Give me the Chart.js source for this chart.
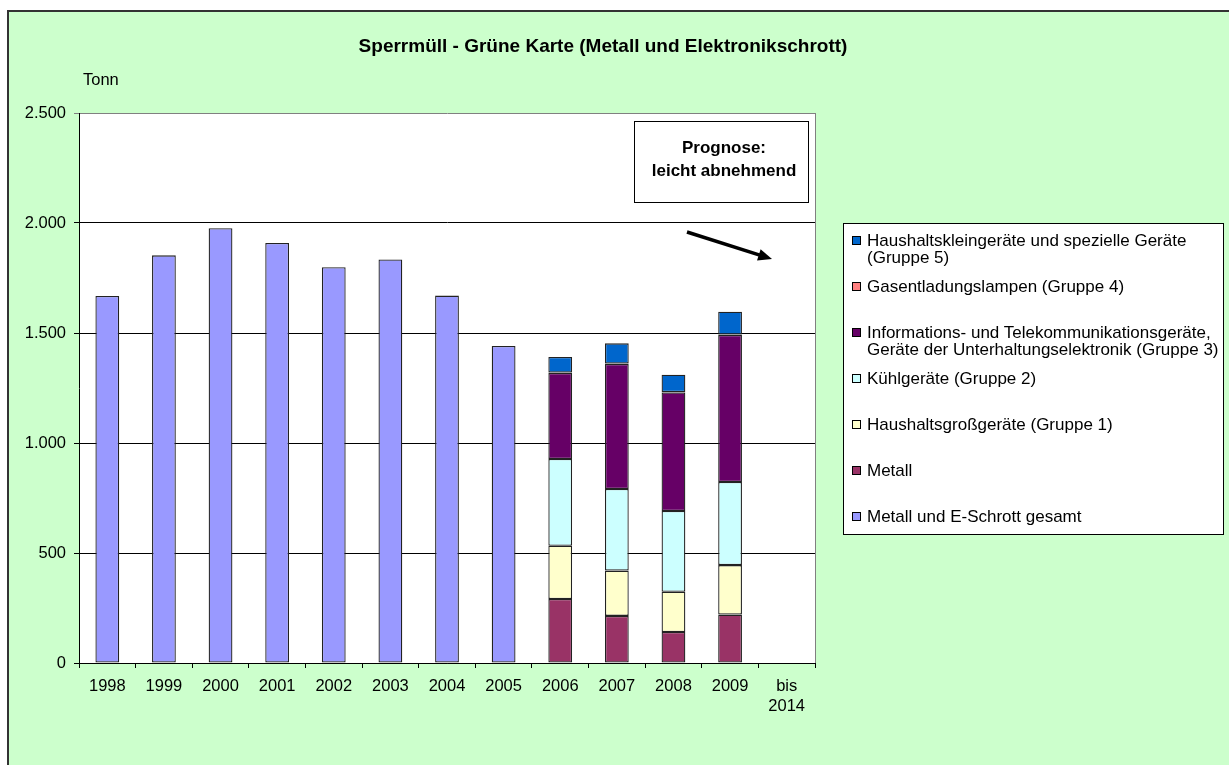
<!DOCTYPE html>
<html>
<head>
<meta charset="utf-8">
<title>Sperrmüll - Grüne Karte</title>
<script src="https://cdn.jsdelivr.net/npm/chart.js@4.4.1/dist/chart.umd.min.js"></script>
<style>
  body { margin: 0; background: #fff; }
  #wrap { position: relative; width: 1229px; height: 765px; overflow: hidden; }
  #legend {
    position: absolute; left: 843px; top: 223px; width: 381px; height: 312px;
    box-sizing: border-box; background: #fff; border: 1px solid #000;
    font: 17px Arial, 'Liberation Sans', sans-serif; color: #000; padding-top: 8px;
  }
  .item { position: relative; height: 46px; padding-left: 23px; line-height: 17px; white-space: pre; }
  .sw { position: absolute; left: 8px; top: 4px; width: 7px; height: 7px; border: 1px solid #000; }
</style>
</head>
<body>
<div id="wrap">
  <canvas id="chart" width="1229" height="765"></canvas>
  <div id="legend"></div>
</div>
<script>
'use strict';

// Categories (years)
var years = ['1998', '1999', '2000', '2001', '2002', '2003', '2004', '2005',
  '2006', '2007', '2008', '2009', ['bis', '2014']];

// Tonnes
var gesamt = [1668, 1853, 1976, 1909, 1799, 1834, 1670, 1441, null, null, null, null, null];
var metall = [null, null, null, null, null, null, null, null, 291, 214, 141, 220, null];
var gruppe1 = [null, null, null, null, null, null, null, null, 242, 206, 183, 225, null];
var gruppe2 = [null, null, null, null, null, null, null, null, 394, 371, 367, 378, null];
var gruppe3 = [null, null, null, null, null, null, null, null, 391, 568, 539, 668, null];
var gruppe4 = [null, null, null, null, null, null, null, null, 2, 2, 2, 2, null];
var gruppe5 = [null, null, null, null, null, null, null, null, 71, 92, 78, 104, null];

var yTicks = [0, 500, 1000, 1500, 2000, 2500];

var chartTitle = 'Sperrmüll - Grüne Karte (Metall und Elektronikschrott)';
var unitLabel = 'Tonn';
var prognose = ['Prognose:', 'leicht abnehmend'];

var font = "Arial, 'Liberation Sans', sans-serif";

var datasets = [
  { label: 'Metall und E-Schrott gesamt', data: gesamt, backgroundColor: '#9999FF' },
  { label: 'Metall', data: metall, backgroundColor: '#993366' },
  { label: 'Haushaltsgroßgeräte (Gruppe 1)', data: gruppe1, backgroundColor: '#FFFFCC' },
  { label: 'Kühlgeräte (Gruppe 2)', data: gruppe2, backgroundColor: '#CCFFFF' },
  { label: 'Informations- und Telekommunikationsgeräte,\nGeräte der Unterhaltungselektronik (Gruppe 3)', data: gruppe3, backgroundColor: '#660066' },
  { label: 'Gasentladungslampen (Gruppe 4)', data: gruppe4, backgroundColor: '#FF8080' },
  { label: 'Haushaltskleingeräte und spezielle Geräte\n(Gruppe 5)', data: gruppe5, backgroundColor: '#0066CC' }
];

datasets.forEach(function (ds) {
  ds.borderColor = '#222';
  ds.borderWidth = 1.3;
  ds.borderSkipped = false;
  ds.categoryPercentage = 1;
  ds.barPercentage = 0.42;
});

var formatDE = function (v) {
  return String(v).replace(/\B(?=(\d{3})+(?!\d))/g, '.');
};

// background, title, plot frame, forecast box and arrow
var decorPlugin = {
  id: 'decor',
  beforeDraw: function (chart) {
    var ctx = chart.ctx;
    var a = chart.chartArea;
    ctx.save();
    ctx.fillStyle = '#fff';
    ctx.fillRect(0, 0, chart.width, chart.height);
    ctx.fillStyle = '#CCFFCC';
    ctx.fillRect(8, 11, chart.width, chart.height);
    ctx.strokeStyle = '#333';
    ctx.lineWidth = 2;
    ctx.beginPath();
    ctx.moveTo(8, chart.height);
    ctx.lineTo(8, 11);
    ctx.lineTo(chart.width, 11);
    ctx.stroke();

    ctx.fillStyle = '#fff';
    ctx.fillRect(a.left, a.top, a.right - a.left, a.bottom - a.top);

    ctx.fillStyle = '#000';
    ctx.textBaseline = 'middle';
    ctx.textAlign = 'center';
    ctx.font = 'bold 19px ' + font;
    ctx.fillText(chartTitle, 603, 47);

    ctx.textAlign = 'left';
    ctx.font = '16.5px ' + font;
    ctx.fillText(unitLabel, a.left + 4, 80);
    ctx.restore();
  },
  afterDraw: function (chart) {
    var ctx = chart.ctx;
    var a = chart.chartArea;
    ctx.save();
    // right edge of plot area
    ctx.strokeStyle = '#808080';
    ctx.lineWidth = 1;
    ctx.beginPath();
    ctx.moveTo(Math.round(a.right) + 0.5, a.top);
    ctx.lineTo(Math.round(a.right) + 0.5, a.bottom);
    ctx.stroke();

    // forecast box
    var bx = a.right - 181, by = a.top + 8, bw = 174, bh = 81;
    ctx.fillStyle = '#fff';
    ctx.fillRect(bx, by, bw, bh);
    ctx.strokeStyle = '#000';
    ctx.strokeRect(bx + 0.5, by + 0.5, bw, bh);
    ctx.fillStyle = '#000';
    ctx.textAlign = 'center';
    ctx.textBaseline = 'middle';
    ctx.font = 'bold 17px ' + font;
    ctx.fillText(prognose[0], bx + bw / 2 + 3, by + 27);
    ctx.fillText(prognose[1], bx + bw / 2 + 3, by + 50);

    // arrow
    var x1 = a.left + 608, y1 = a.top + 119, x2 = a.left + 693, y2 = a.top + 146;
    var ang = Math.atan2(y2 - y1, x2 - x1);
    var head = 15;
    ctx.lineWidth = 3.5;
    ctx.beginPath();
    ctx.moveTo(x1, y1);
    ctx.lineTo(x2 - Math.cos(ang) * head * 0.8, y2 - Math.sin(ang) * head * 0.8);
    ctx.stroke();
    ctx.beginPath();
    ctx.moveTo(x2, y2);
    ctx.lineTo(x2 - head * Math.cos(ang - 0.4), y2 - head * Math.sin(ang - 0.4));
    ctx.lineTo(x2 - head * Math.cos(ang + 0.4), y2 - head * Math.sin(ang + 0.4));
    ctx.closePath();
    ctx.fill();
    ctx.restore();
  }
};

var chart = new Chart(document.getElementById('chart').getContext('2d'), {
  type: 'bar',
  data: { labels: years, datasets: datasets },
  plugins: [decorPlugin],
  options: {
    responsive: false,
    animation: false,
    layout: { padding: { left: 19, right: 414, top: 113, bottom: 42 } },
    plugins: {
      legend: { display: false },
      title: { display: false },
      tooltip: { enabled: false }
    },
    scales: {
      x: {
        stacked: true,
        afterFit: function (scale) { scale.height = 60; },
        grid: { offset: true, drawOnChartArea: false, drawTicks: true, tickLength: 5, color: '#000' },
        border: { display: true, color: '#000', width: 1 },
        ticks: {
          color: '#000', maxRotation: 0, autoSkip: false, padding: 9,
          font: { family: font, size: 16.5, lineHeight: 1.2 }
        }
      },
      y: {
        stacked: true,
        min: 0,
        max: 2500,
        afterFit: function (scale) { scale.width = 60; },
        afterBuildTicks: function (scale) {
          scale.ticks = yTicks.map(function (v) { return { value: v }; });
        },
        grid: {
          color: function (c) { return c.tick && c.tick.value === 2500 ? '#808080' : '#000'; },
          tickLength: 5
        },
        border: { display: true, color: '#000', width: 1 },
        ticks: {
          color: '#000', padding: 8,
          font: { family: font, size: 16.5 },
          callback: function (v) { return formatDE(v); }
        }
      }
    }
  }
});

// HTML legend, top group first as in the original
var legendEl = document.getElementById('legend');
chart.data.datasets.slice().reverse().forEach(function (ds) {
  var item = document.createElement('div');
  item.className = 'item';
  var sw = document.createElement('span');
  sw.className = 'sw';
  sw.style.background = ds.backgroundColor;
  item.appendChild(sw);
  item.appendChild(document.createTextNode(ds.label));
  legendEl.appendChild(item);
});
</script>
</body>
</html>
